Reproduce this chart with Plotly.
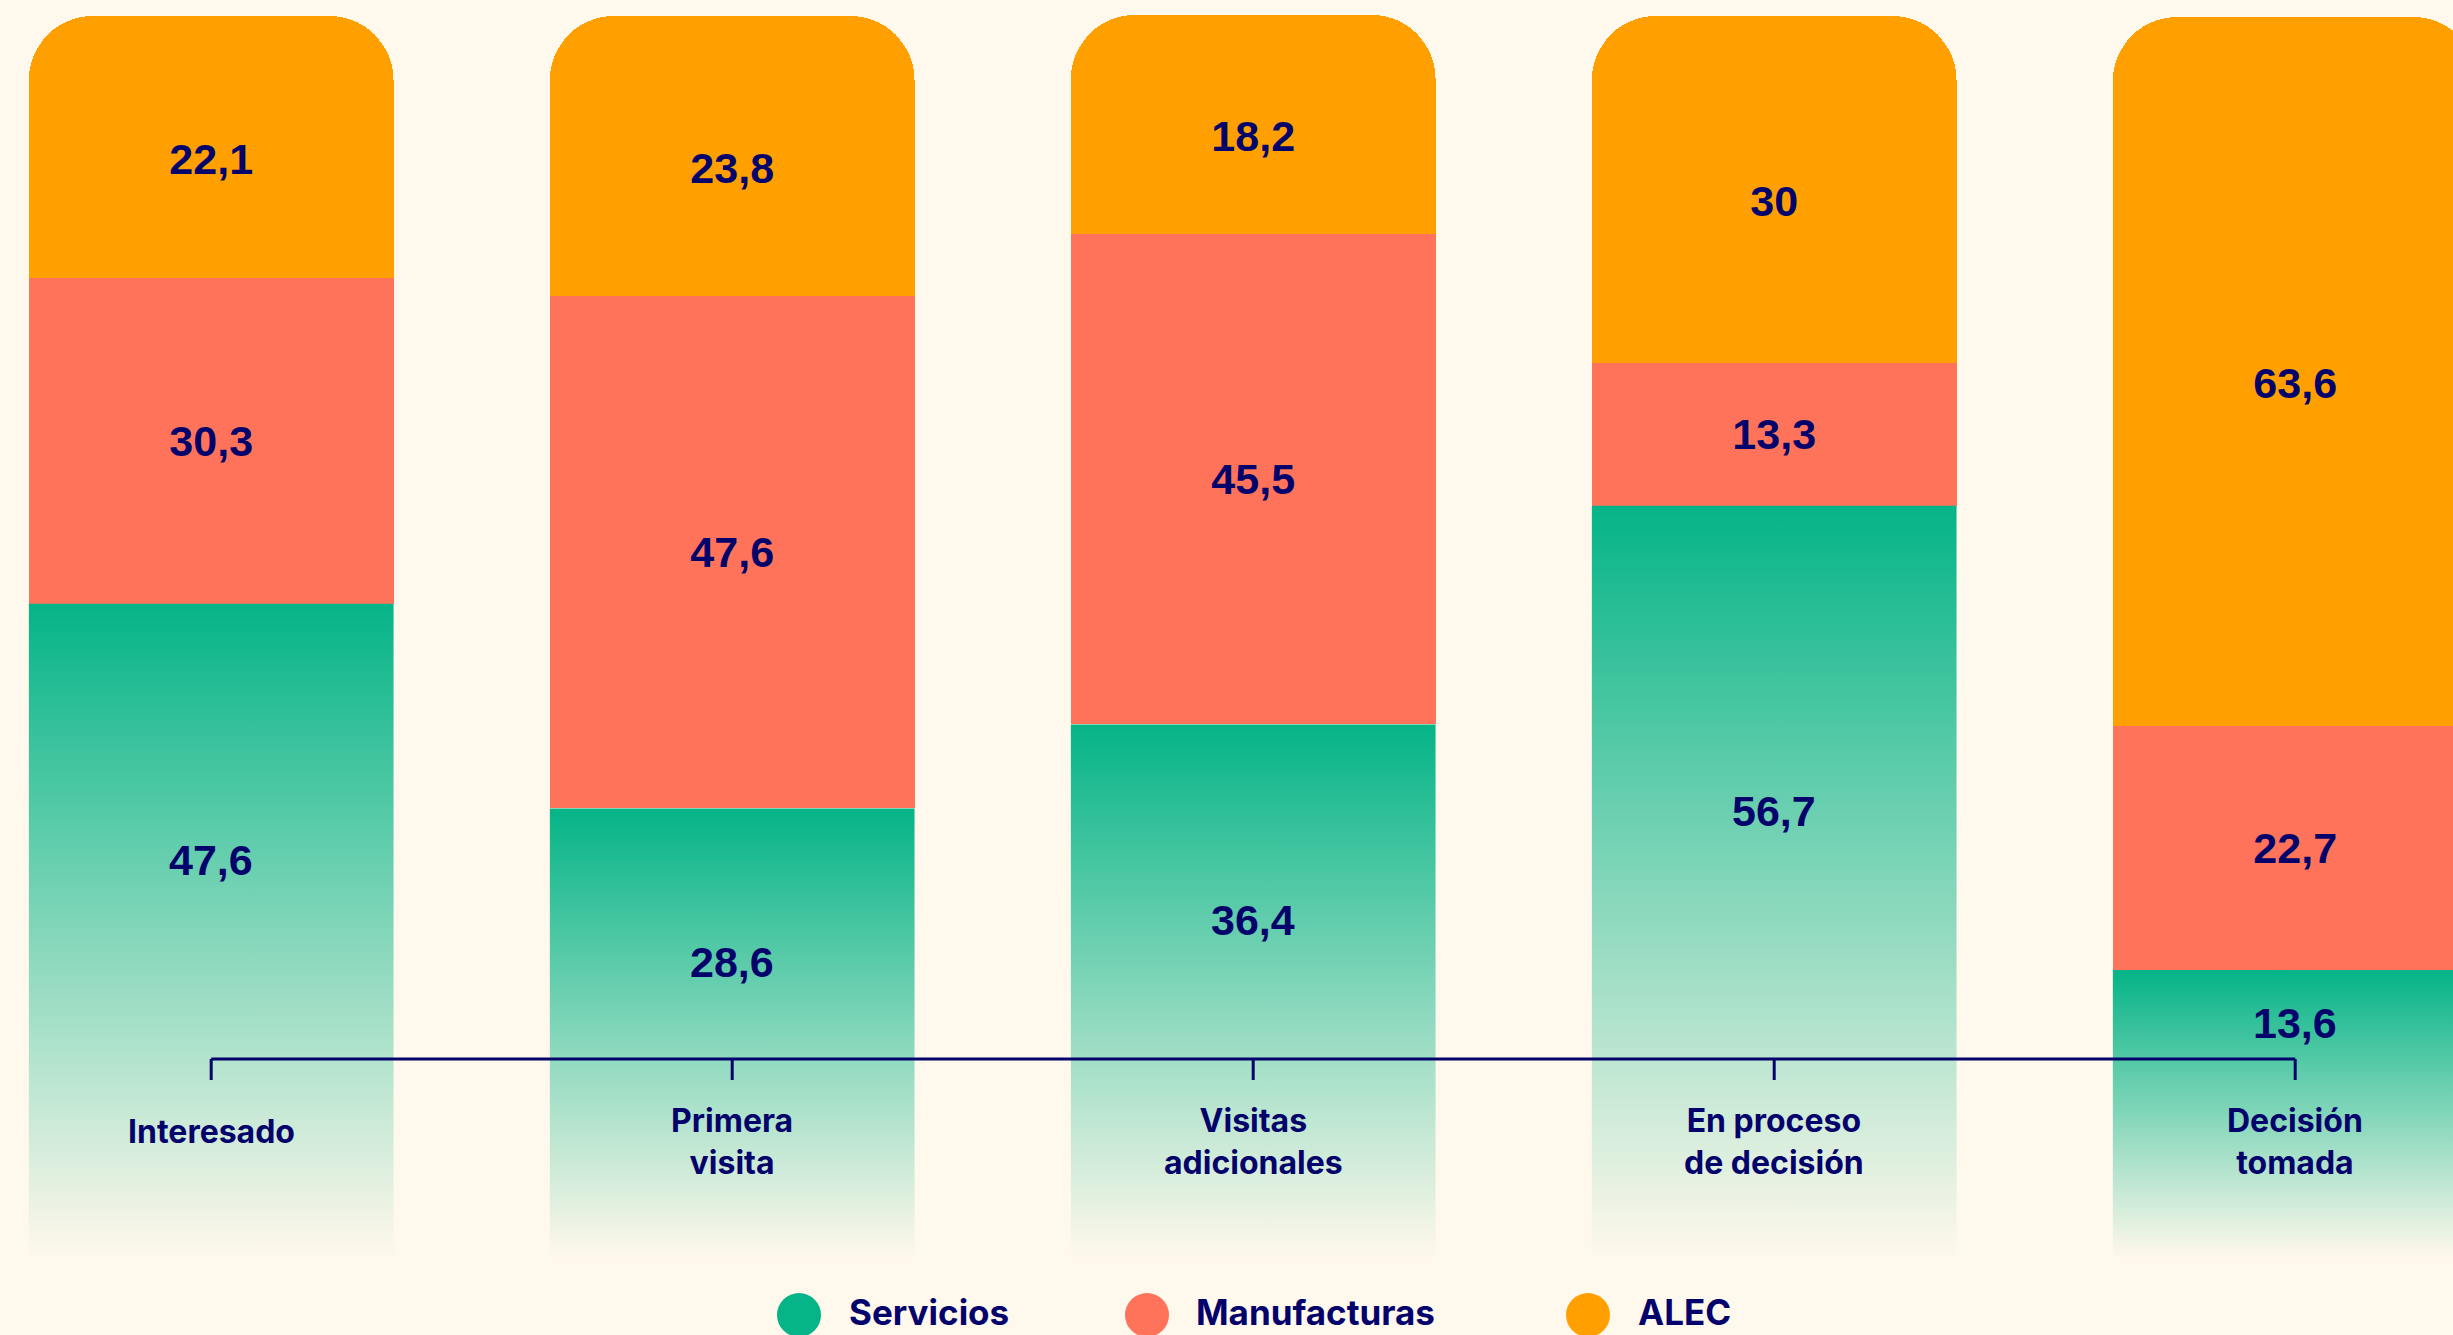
import plotly.graph_objects as go

# Stage of the purchase process and share (%) of each sector at that stage
categories = ["Interesado", "Primera<br>visita", "Visitas<br>adicionales",
              "En proceso<br>de decisión", "Decisión<br>tomada"]
servicios = [47.6, 28.6, 36.4, 56.7, 13.6]
manufacturas = [30.3, 47.6, 45.5, 13.3, 22.7]
alec = [22.1, 23.8, 18.2, 30.0, 63.6]
series_names = ["Servicios", "Manufacturas", "ALEC"]

# Styling
W, H = 2453, 1335
BG = "#FFF8EC"
GREEN = "#05B487"
CORAL = "#FF735A"
ORANGE = "#FFA000"
NAVY = "#03036B"
BAR_W = 0.7
PX_PER_UNIT = 10.77          # vertical pixels per percentage point
ZERO_PX = 1116.5             # pixel row of the 0 % baseline
FADE_BOTTOM = -13.05         # green bars fade out below the baseline down to here
CAP = 2.18                   # rounded cap above the 100 % top
CORNER_PX = 64
LABEL_MIN_Y = 8.7            # keep green value labels clear of the category bracket

VALUE_FONT = dict(family="Liberation Sans, Arial, sans-serif", size=43, color=NAVY, weight=700)
LABEL_FONT = dict(family="Inter, Lato, sans-serif", size=32, color=NAVY, weight=700)
LEGEND_FONT = dict(family="Inter, Lato, sans-serif", size=35, color=NAVY, weight=700)


def fmt(v):
    return f"{v:g}".replace(".", ",")


def px_x(p):
    return p / W


def px_y(p):
    return 1 - p / H


xs = list(range(len(categories)))
fig = go.Figure()

# Invisible base so that the coloured segments stack on top of Servicios
fig.add_trace(go.Bar(x=xs, y=servicios, width=BAR_W, marker=dict(color="rgba(0,0,0,0)", line=dict(width=0)),
                     showlegend=False, hoverinfo="skip"))
fig.add_trace(go.Bar(x=xs, y=manufacturas, width=BAR_W, name="Manufacturas",
                     marker=dict(color=CORAL, line=dict(width=0)),
                     text=[fmt(v) for v in manufacturas], textposition="inside",
                     insidetextanchor="middle", textangle=0, insidetextfont=VALUE_FONT,
                     constraintext="none", showlegend=False))
fig.add_trace(go.Bar(x=xs, y=alec, width=BAR_W, name="ALEC",
                     marker=dict(color=ORANGE, line=dict(width=0)),
                     text=[fmt(v) for v in alec], textposition="inside",
                     insidetextanchor="middle", textangle=0, insidetextfont=VALUE_FONT,
                     constraintext="none", showlegend=False))
# Rounded cap on top of each stack
fig.add_trace(go.Bar(x=xs, y=[CAP] * len(xs), width=BAR_W,
                     marker=dict(color=ORANGE, line=dict(width=0)),
                     showlegend=False, hoverinfo="skip"))

# Servicios segments: solid green at the top fading into the background below the baseline
for x, v in zip(xs, servicios):
    x0, x1 = x - BAR_W / 2, x + BAR_W / 2
    fig.add_trace(go.Scatter(
        x=[x0, x1, x1, x0, x0], y=[FADE_BOTTOM, FADE_BOTTOM, v, v, FADE_BOTTOM],
        mode="lines", fill="toself", line=dict(width=0),
        fillgradient=dict(type="vertical", colorscale=[[0, BG], [1, GREEN]],
                          start=FADE_BOTTOM, stop=v),
        name=series_names[0], showlegend=False, hoverinfo="skip"))
    fig.add_annotation(x=x, y=max(v / 2, LABEL_MIN_Y), text=fmt(v), showarrow=False,
                       font=VALUE_FONT, xanchor="center", yanchor="middle")

# Category bracket
axis_py, tick_py = 1059, 1080
fig.add_shape(type="line", xref="x", yref="paper", x0=xs[0], x1=xs[-1],
              y0=px_y(axis_py), y1=px_y(axis_py), line=dict(color=NAVY, width=3), layer="above")
for x, cat in zip(xs, categories):
    fig.add_shape(type="line", xref="x", yref="paper", x0=x, x1=x,
                  y0=px_y(axis_py), y1=px_y(tick_py), line=dict(color=NAVY, width=3), layer="above")
    lines = cat.count("<br>") + 1
    fig.add_annotation(x=x, xref="x", yref="paper", y=px_y(1131 + 10 * (lines - 1)),
                       text=cat, showarrow=False, font=LABEL_FONT,
                       xanchor="center", yanchor="middle", align="center")

# Legend
legend_items = [(series_names[0], GREEN, 799, 847),
                (series_names[1], CORAL, 1147, 1194),
                (series_names[2], ORANGE, 1588, 1636)]
for name, color, cx, tx in legend_items:
    r = 22
    fig.add_shape(type="circle", xref="paper", yref="paper",
                  x0=px_x(cx - r), x1=px_x(cx + r), y0=px_y(1315 + r), y1=px_y(1315 - r),
                  fillcolor=color, line=dict(width=0))
    fig.add_annotation(x=px_x(tx), y=px_y(1312), xref="paper", yref="paper", text=name,
                       showarrow=False, font=LEGEND_FONT, xanchor="left", yanchor="middle")

x_left = -211.2 / 521.0
x_right = (W - 211.2) / 521.0
y_top = ZERO_PX / PX_PER_UNIT
y_bottom = -(H - ZERO_PX) / PX_PER_UNIT

fig.update_layout(
    width=W, height=H, margin=dict(l=0, r=0, t=0, b=0),
    paper_bgcolor=BG, plot_bgcolor=BG,
    barmode="stack", barcornerradius=CORNER_PX,
    showlegend=False,
    xaxis=dict(range=[x_left, x_right], visible=False, fixedrange=True),
    yaxis=dict(range=[y_bottom, y_top], visible=False, fixedrange=True),
)

fig.write_html("out.html")
